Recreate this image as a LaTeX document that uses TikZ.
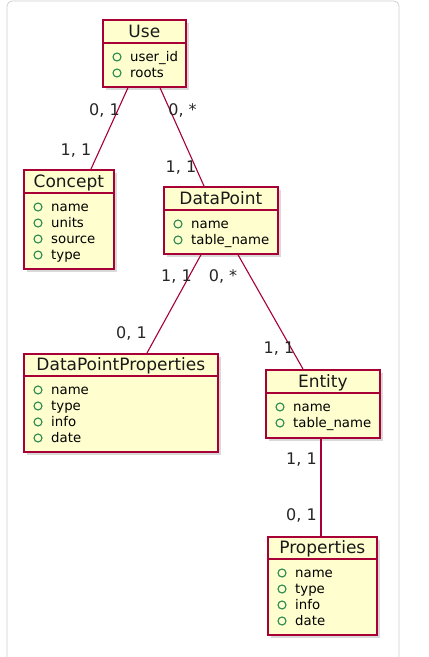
\documentclass[tikz,border=0pt]{standalone}
\usepackage{fontspec}
\setmainfont{DejaVu Sans}
\usepackage{tikz}
\usetikzlibrary{calc,shadows}
\definecolor{umlborder}{HTML}{A80036}
\definecolor{umlfill}{HTML}{FEFECE}
\definecolor{fieldgreen}{HTML}{2A8A50}
\definecolor{framegray}{HTML}{D0D0D0}
\tikzset{
  classbox/.style={draw=umlborder, fill=umlfill, line width=1.7pt, anchor=north west, inner sep=0pt,
    drop shadow={opacity=0.3, shadow xshift=3.5pt, shadow yshift=-3.5pt}},
  classsep/.style={draw=umlborder, line width=1.5pt},
  classtitle/.style={anchor=base, inner sep=0pt, font=\fontsize{17}{20}\selectfont, text=black!90},
  field/.style={anchor=base west, inner sep=0pt, font=\fontsize{13.3}{16}\selectfont},
  fielddot/.style={draw=fieldgreen, line width=1.1pt, minimum size=8pt, circle, inner sep=0pt},
  assoc/.style={draw=umlborder, line width=1.1pt},
  mult/.style={anchor=base, inner sep=0pt, font=\fontsize{16}{19}\selectfont, text=black!85}
}
\begin{document}
\begin{tikzpicture}[x=1pt, y=-1pt]
  \useasboundingbox (0,0) rectangle (429,657);
  \draw[framegray, line width=0.8pt, rounded corners=5pt] (7,657) -- (7,1) -- (399,1) -- (399,657);

  % Use
  \node[classbox, minimum width=83pt, minimum height=67pt] (use) at (102,19) {};
  \draw[classsep] ($(use.north west)+(0,24)$) -- ($(use.north east)+(0,24)$);
  \node[classtitle] (use-title) at ($(use.north)+(0,18)$) {Use};
  \foreach \f [count=\i] in {user\_id, roots} {
    \node[fielddot] (use-d\i) at ($(use.north west)+(15,22+16*\i)$) {};
    \node[field] (use-f\i) at ($(use.north west)+(28,26+16*\i)$) {\f};
  }

  % Concept
  \node[classbox, minimum width=90pt, minimum height=99pt] (concept) at (23,169) {};
  \draw[classsep] ($(concept.north west)+(0,24)$) -- ($(concept.north east)+(0,24)$);
  \node[classtitle] (concept-title) at ($(concept.north)+(0,18)$) {Concept};
  \foreach \f [count=\i] in {name, units, source, type} {
    \node[fielddot] (concept-d\i) at ($(concept.north west)+(15,22+16*\i)$) {};
    \node[field] (concept-f\i) at ($(concept.north west)+(28,26+16*\i)$) {\f};
  }

  % DataPoint
  \node[classbox, minimum width=114pt, minimum height=67pt] (datapoint) at (163,186) {};
  \draw[classsep] ($(datapoint.north west)+(0,24)$) -- ($(datapoint.north east)+(0,24)$);
  \node[classtitle] (datapoint-title) at ($(datapoint.north)+(0,18)$) {DataPoint};
  \foreach \f [count=\i] in {name, table\_name} {
    \node[fielddot] (datapoint-d\i) at ($(datapoint.north west)+(15,22+16*\i)$) {};
    \node[field] (datapoint-f\i) at ($(datapoint.north west)+(28,26+16*\i)$) {\f};
  }

  % DataPointProperties
  \node[classbox, minimum width=194pt, minimum height=98pt] (dpprops) at (23,353) {};
  \draw[classsep] ($(dpprops.north west)+(0,23)$) -- ($(dpprops.north east)+(0,23)$);
  \node[classtitle] (dpprops-title) at ($(dpprops.north)+(0,17)$) {DataPointProperties};
  \foreach \f [count=\i] in {name, type, info, date} {
    \node[fielddot] (dpprops-d\i) at ($(dpprops.north west)+(15,21+16*\i)$) {};
    \node[field] (dpprops-f\i) at ($(dpprops.north west)+(28,25+16*\i)$) {\f};
  }

  % Entity
  \node[classbox, minimum width=114pt, minimum height=68pt] (entity) at (265,369) {};
  \draw[classsep] ($(entity.north west)+(0,24)$) -- ($(entity.north east)+(0,24)$);
  \node[classtitle] (entity-title) at ($(entity.north)+(0,18)$) {Entity};
  \foreach \f [count=\i] in {name, table\_name} {
    \node[fielddot] (entity-d\i) at ($(entity.north west)+(15,22+16*\i)$) {};
    \node[field] (entity-f\i) at ($(entity.north west)+(28,26+16*\i)$) {\f};
  }

  % Properties
  \node[classbox, minimum width=109pt, minimum height=98pt] (props) at (267,536) {};
  \draw[classsep] ($(props.north west)+(0,23)$) -- ($(props.north east)+(0,23)$);
  \node[classtitle] (props-title) at ($(props.north)+(0,17)$) {Properties};
  \foreach \f [count=\i] in {name, type, info, date} {
    \node[fielddot] (props-d\i) at ($(props.north west)+(15,21+16*\i)$) {};
    \node[field] (props-f\i) at ($(props.north west)+(28,25+16*\i)$) {\f};
  }

  % associations
  \draw[assoc] ([xshift=26pt]use.south west) -- ([xshift=68pt]concept.north west);
  \draw[assoc] ([xshift=58pt]use.south west) -- ([xshift=41pt]datapoint.north west);
  \draw[assoc] ([xshift=38pt]datapoint.south west) -- ([xshift=124pt]dpprops.north west);
  \draw[assoc] ([xshift=75pt]datapoint.south west) -- ([xshift=38pt]entity.north west);
  \draw[assoc] ([xshift=56pt]entity.south west) -- ([xshift=54pt]props.north west);

  \node[mult] (m-use-concept) at (104.5,115) {0, 1};
  \node[mult] (m-use-dp) at (182.5,115) {0, *};
  \node[mult] (m-concept) at (76,155) {1, 1};
  \node[mult] (m-dp-use) at (181,172) {1, 1};
  \node[mult] (m-dp-dpp) at (176.5,281) {1, 1};
  \node[mult] (m-dp-entity) at (223,281) {0, *};
  \node[mult] (m-dpp) at (131.5,338) {0, 1};
  \node[mult] (m-entity-dp) at (279,353) {1, 1};
  \node[mult] (m-entity-props) at (301.5,464) {1, 1};
  \node[mult] (m-props) at (301.5,520) {0, 1};
\end{tikzpicture}
\end{document}
